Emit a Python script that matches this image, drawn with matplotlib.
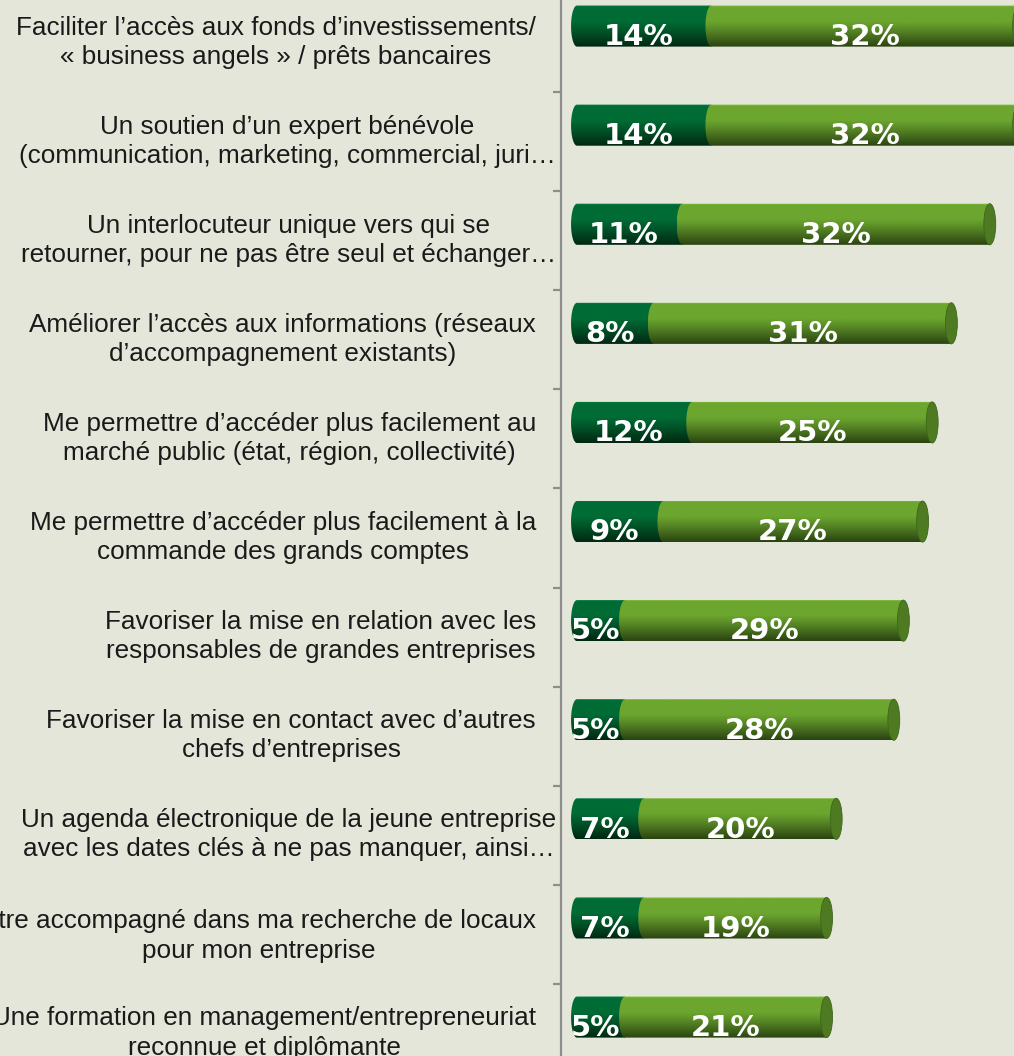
import numpy as np
import matplotlib
matplotlib.use("Agg")
import matplotlib.pyplot as plt
from matplotlib.patches import Polygon, Ellipse
from matplotlib.transforms import ScaledTranslation

# ---- data ----
labels = [
    "Faciliter l’accès aux fonds d’investissements/\n« business angels » / prêts bancaires",
    "Un soutien d’un expert bénévole\n(communication, marketing, commercial, juri…",
    "Un interlocuteur unique vers qui se\nretourner, pour ne pas être seul et échanger…",
    "Améliorer l’accès aux informations (réseaux\nd’accompagnement existants)",
    "Me permettre d’accéder plus facilement au\nmarché public (état, région, collectivité)",
    "Me permettre d’accéder plus facilement à la\ncommande des grands comptes",
    "Favoriser la mise en relation avec les\nresponsables de grandes entreprises",
    "Favoriser la mise en contact avec d’autres\nchefs d’entreprises",
    "Un agenda électronique de la jeune entreprise\navec les dates clés à ne pas manquer, ainsi…",
    "Être accompagné dans ma recherche de locaux\npour mon entreprise",
    "Une formation en management/entrepreneuriat\nreconnue et diplômante",
]
dark_vals = [14, 14, 11, 8, 12, 9, 5, 5, 7, 7, 5]
light_vals = [32, 32, 32, 31, 25, 27, 29, 28, 20, 19, 21]

# ---- style ----
BG = "#E5E6DA"
DARK_TOP, DARK_BOT = np.array([0, 108, 53]) / 255, np.array([0, 40, 18]) / 255
LIGHT_TOP, LIGHT_BOT = np.array([108, 166, 47]) / 255, np.array([42, 68, 17]) / 255
CAP = "#4E7B22"

bar_h = 0.415      # bar thickness (category units)
depth = 0.166      # 3D shift of bars above the category centre
rx = 0.62          # horizontal radius of the cylinder ends (value units)

fig = plt.figure(figsize=(10.14, 10.56), dpi=100, facecolor=BG)
ax = fig.add_axes([561 / 1014, 0, 1 - 561 / 1014, 1], facecolor=BG)

y = np.arange(len(labels))
yb = y - depth

d_bars = ax.barh(yb, dark_vals, height=bar_h, color=DARK_TOP)
l_bars = ax.barh(yb, light_vals, left=dark_vals, height=bar_h, color=LIGHT_TOP)


def gradient(top, bot, n=64):
    t = np.linspace(0, 1, n)
    w = np.clip((t - 0.38) / 0.62, 0, 1) ** 1.1
    rows = top[None, :] * (1 - w[:, None]) + bot[None, :] * w[:, None]
    # thin highlight on the very top edge
    rows[:2] = np.clip(rows[:2] * 1.15 + 0.04, 0, 1)
    return rows[:, None, :]


def cylinder(rect, top, bot, z, cap=False):
    a, y0 = rect.get_x(), rect.get_y()
    b, h = a + rect.get_width(), rect.get_height()
    yc, hh = y0 + h / 2, h / 2
    rect.set_visible(False)
    th = np.linspace(0, np.pi, 40)
    arc = np.column_stack([a - rx * np.sin(th), yc - hh * np.cos(th)])
    verts = np.vstack([[b, y0], arc, [b, y0 + h]])
    poly = Polygon(verts, closed=True, facecolor="none", edgecolor="none", zorder=z)
    ax.add_patch(poly)
    im = ax.imshow(gradient(top, bot), extent=(a - rx, b, yc + hh, yc - hh),
                   aspect="auto", interpolation="bilinear", zorder=z)
    im.set_clip_path(poly)
    if cap:
        ax.add_patch(Ellipse((b, yc), 2 * rx, h, facecolor=CAP,
                             edgecolor="#3F6619", lw=0.6, zorder=z + 0.5))


for r in d_bars:
    cylinder(r, DARK_TOP, DARK_BOT, 2)
for r in l_bars:
    cylinder(r, LIGHT_TOP, LIGHT_BOT, 3, cap=True)

# value labels
for i in range(len(labels)):
    d, l = dark_vals[i], light_vals[i]
    ax.text(d / 2 - rx, yb[i] + 0.19, f"{d}%", ha="center", va="baseline",
            color="white", fontsize=21, fontweight="bold",
            family="DejaVu Sans", zorder=5)
    ax.text(d + l / 2, yb[i] + 0.19, f"{l}%", ha="center", va="baseline",
            color="white", fontsize=21, fontweight="bold",
            family="DejaVu Sans", zorder=5)

# axes
px_per_cat = 99.1
ax.set_ylim((1056 - 42.5) / px_per_cat, -42.5 / px_per_cat)
ax.set_xlim((561 - 577) / 9.6, (1014 - 577) / 9.6)

ax.set_yticks(y)
ax.set_yticklabels(labels, fontsize=18.8, family="Liberation Sans",
                   color="#1A1A1A", linespacing=1.27)
ax.set_yticks(y[:-1] + 0.5, minor=True)
ax.tick_params(axis="y", which="major", length=0, pad=18)
ax.tick_params(axis="y", which="minor", length=5.8, width=1.6, color="#8E8E8E")
ax.set_xticks([])
for lab in ax.get_yticklabels():
    lab.set_multialignment("center")
    dx = 0.2 if "…" in lab.get_text() else 0
    lab.set_transform(lab.get_transform() + ScaledTranslation(dx, 0.055, fig.dpi_scale_trans))

for s in ["top", "right", "bottom"]:
    ax.spines[s].set_visible(False)
ax.spines["left"].set_color("#8E8E8E")
ax.spines["left"].set_linewidth(1.6)

fig.savefig("out.png", dpi=100, facecolor=BG)
